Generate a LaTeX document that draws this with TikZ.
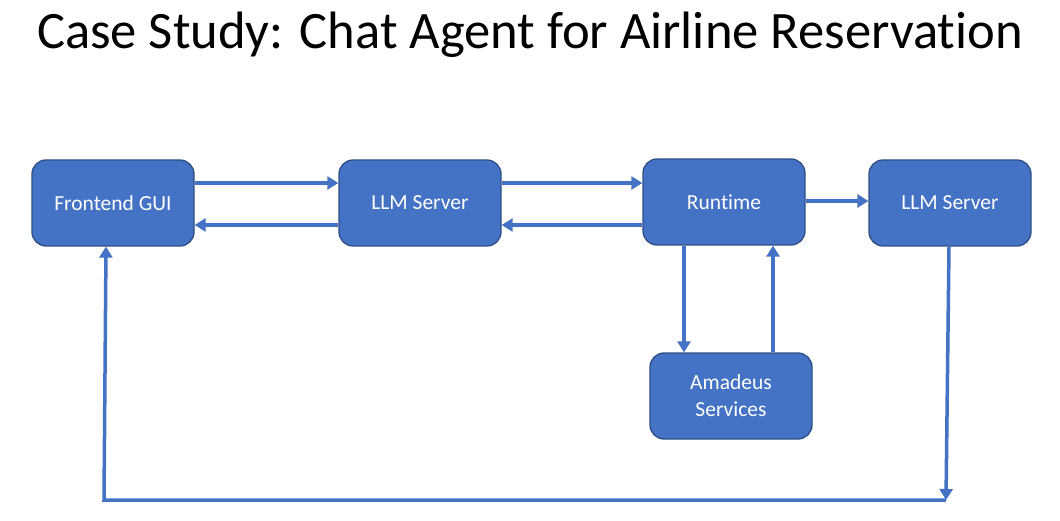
\documentclass[tikz,border=0pt]{standalone}
\usepackage{fontspec}
\setmainfont[Ligatures={NoCommon,NoRequired,NoContextual}]{Carlito}
\usetikzlibrary{arrows.meta}
\definecolor{boxblue}{HTML}{4472C4}
\definecolor{boxedge}{HTML}{2F4F86}
\begin{document}
\begin{tikzpicture}[x=1pt,y=-1pt,
  blk/.style={draw=boxedge, line width=1.3pt, fill=boxblue, rounded corners=14pt,
    minimum width=162pt, minimum height=86pt, text=white, font=\fontsize{21.5}{27}\selectfont, align=center, inner sep=0pt},
  conn/.style={draw=boxblue, line width=3.5pt, -{Triangle[length=11pt,width=13pt]}},
  plain/.style={draw=boxblue, line width=3.5pt}]
\useasboundingbox (0,0) rectangle (1060,521);
\fill[white] (0,0) rectangle (1060,521);
\node[font=\fontsize{52.6}{60}\selectfont, text=black] (title) at (530,35) {Case Study: Chat Agent for Airline Reservation};
\node[blk] (fe) at (113,203) {Frontend GUI};
\node[blk] (llma) at (420,203) {LLM Server};
\node[blk] (rt) at (724,202) {Runtime};
\node[blk] (llmb) at (950,203) {LLM Server};
\node[blk] (am) at (731,396) {Amadeus\\Services};
\coordinate (br) at (946,500);
\coordinate (bl) at (104,500);
\draw[conn] (fe.east |- 0,183) -- (llma.west |- 0,183);
\draw[conn] (llma.west |- 0,225) -- (fe.east |- 0,225);
\draw[conn] (llma.east |- 0,183) -- (rt.west |- 0,183);
\draw[conn] (rt.west |- 0,225) -- (llma.east |- 0,225);
\draw[conn] (rt.east |- 0,201) -- (llmb.west |- 0,201);
\draw[conn] (rt.south -| 684,0) -- (am.north -| 684,0);
\draw[conn] (am.north -| 773,0) -- (rt.south -| 773,0);
\draw[conn] (llmb.south -| 949,0) -- (br);
\draw[conn] (br) -- (bl) -- (fe.south -| 106,0);
\end{tikzpicture}
\end{document}
